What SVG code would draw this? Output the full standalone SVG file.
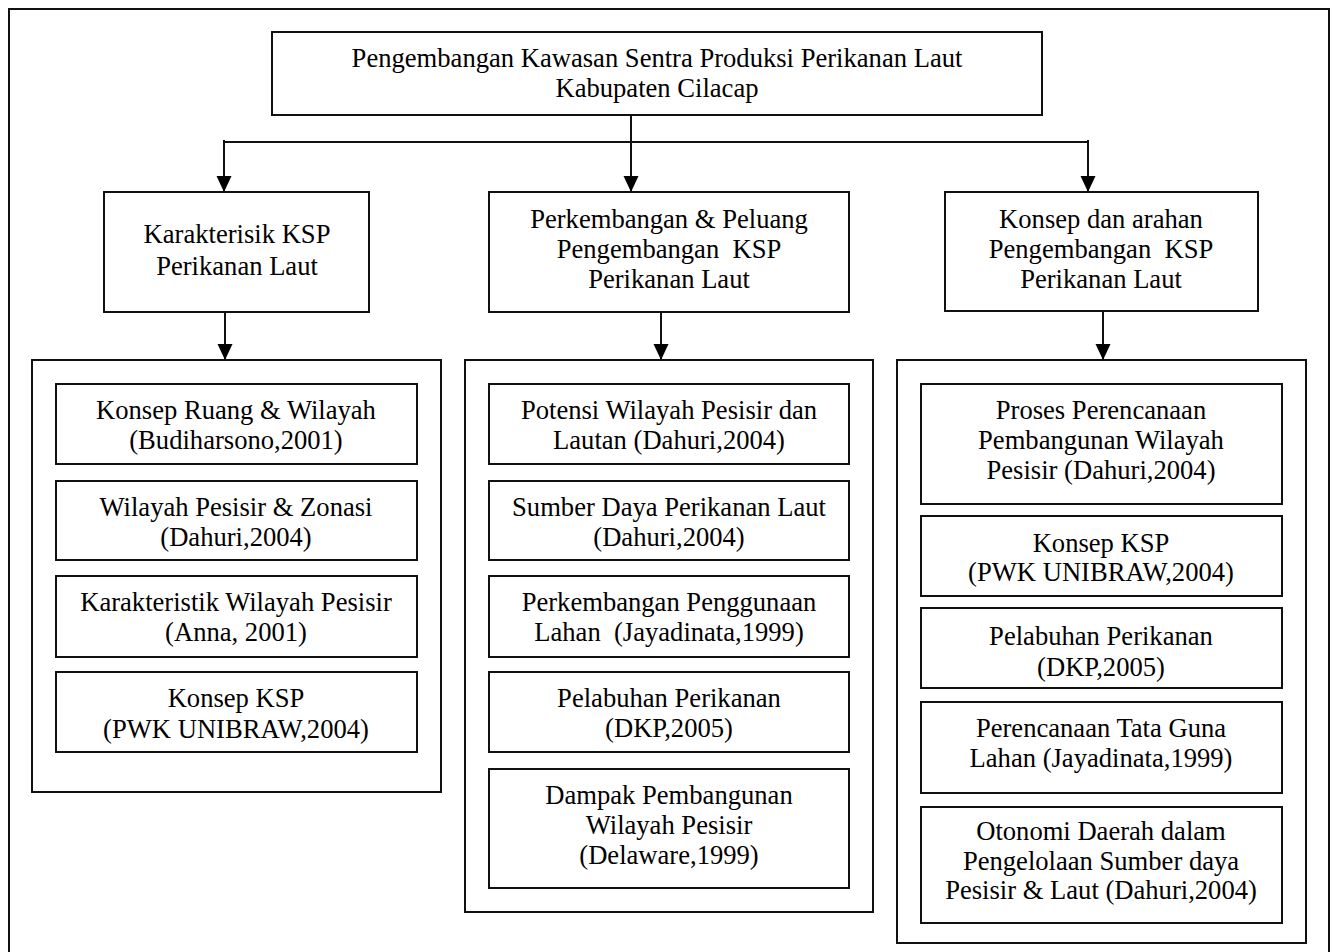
<svg xmlns="http://www.w3.org/2000/svg" width="1334" height="952" viewBox="0 0 1334 952">
  <style>
    .box { fill: #fff; stroke: #111; stroke-width: 2; }
    .frame { fill: none; stroke: #111; stroke-width: 2; }
    .wire { fill: none; stroke: #111; stroke-width: 2; }
    text { font-family: "Liberation Serif", "Times New Roman", serif; font-size: 26.6px; fill: #000; text-anchor: middle; }
  </style>
  <defs>
    <marker id="arrow" markerUnits="userSpaceOnUse" markerWidth="17" markerHeight="16" refX="16" refY="8" orient="auto">
      <path d="M0,0.5 L16,8 L0,15.5 z" fill="#000"/>
    </marker>
  </defs>
  <rect width="1334" height="952" fill="#fff"/>

  <!-- page frame (runs past the bottom edge) -->
  <path class="frame" d="M9,960 V9 H1329 V960"/>

  <!-- connectors -->
  <g id="connectors">
    <path class="wire" d="M631,115 V192" marker-end="url(#arrow)"/>
    <path class="wire" d="M224,142 H1088"/>
    <path class="wire" d="M224,140 V192" marker-end="url(#arrow)"/>
    <path class="wire" d="M1088,140 V192" marker-end="url(#arrow)"/>
    <path class="wire" d="M225,312 V360" marker-end="url(#arrow)"/>
    <path class="wire" d="M661,312 V360" marker-end="url(#arrow)"/>
    <path class="wire" d="M1103,311 V360" marker-end="url(#arrow)"/>
  </g>

  <!-- root -->
  <g id="root">
    <rect class="box" x="272" y="32" width="770" height="83"/>
    <text x="657" y="67">Pengembangan Kawasan Sentra Produksi Perikanan Laut</text>
    <text x="657" y="97">Kabupaten Cilacap</text>
  </g>

  <!-- second level -->
  <g id="karakteristik">
    <rect class="box" x="104" y="192" width="265" height="120"/>
    <text x="237" y="243">Karakterisik KSP</text>
    <text x="237" y="275">Perikanan Laut</text>
  </g>
  <g id="perkembangan">
    <rect class="box" x="489" y="192" width="360" height="120"/>
    <text x="669" y="228">Perkembangan &amp; Peluang</text>
    <text x="669" y="258" xml:space="preserve">Pengembangan  KSP</text>
    <text x="669" y="288">Perikanan Laut</text>
  </g>
  <g id="konsep-arahan">
    <rect class="box" x="945" y="192" width="313" height="119"/>
    <text x="1101" y="228">Konsep dan arahan</text>
    <text x="1101" y="258" xml:space="preserve">Pengembangan  KSP</text>
    <text x="1101" y="288">Perikanan Laut</text>
  </g>

  <!-- left column -->
  <g id="group-left">
    <rect class="box" x="32" y="360" width="409" height="432"/>
    <g id="l1">
      <rect class="box" x="56" y="384" width="361" height="80"/>
      <text x="236" y="419">Konsep Ruang &amp; Wilayah</text>
      <text x="236" y="449">(Budiharsono,2001)</text>
    </g>
    <g id="l2">
      <rect class="box" x="56" y="481" width="361" height="79"/>
      <text x="236" y="516">Wilayah Pesisir &amp; Zonasi</text>
      <text x="236" y="546">(Dahuri,2004)</text>
    </g>
    <g id="l3">
      <rect class="box" x="56" y="576" width="361" height="81"/>
      <text x="236" y="611">Karakteristik Wilayah Pesisir</text>
      <text x="236" y="641">(Anna, 2001)</text>
    </g>
    <g id="l4">
      <rect class="box" x="56" y="672" width="361" height="80"/>
      <text x="236" y="707">Konsep KSP</text>
      <text x="236" y="738">(PWK UNIBRAW,2004)</text>
    </g>
  </g>

  <!-- middle column -->
  <g id="group-middle">
    <rect class="box" x="465" y="360" width="408" height="552"/>
    <g id="m1">
      <rect class="box" x="489" y="384" width="360" height="80"/>
      <text x="669" y="419">Potensi Wilayah Pesisir dan</text>
      <text x="669" y="449">Lautan (Dahuri,2004)</text>
    </g>
    <g id="m2">
      <rect class="box" x="489" y="481" width="360" height="79"/>
      <text x="669" y="516">Sumber Daya Perikanan Laut</text>
      <text x="669" y="546">(Dahuri,2004)</text>
    </g>
    <g id="m3">
      <rect class="box" x="489" y="576" width="360" height="81"/>
      <text x="669" y="611">Perkembangan Penggunaan</text>
      <text x="669" y="641" xml:space="preserve">Lahan  (Jayadinata,1999)</text>
    </g>
    <g id="m4">
      <rect class="box" x="489" y="672" width="360" height="80"/>
      <text x="669" y="707">Pelabuhan Perikanan</text>
      <text x="669" y="737">(DKP,2005)</text>
    </g>
    <g id="m5">
      <rect class="box" x="489" y="769" width="360" height="119"/>
      <text x="669" y="804">Dampak Pembangunan</text>
      <text x="669" y="834">Wilayah Pesisir</text>
      <text x="669" y="864">(Delaware,1999)</text>
    </g>
  </g>

  <!-- right column -->
  <g id="group-right">
    <rect class="box" x="897" y="360" width="409" height="583"/>
    <g id="r1">
      <rect class="box" x="921" y="384" width="361" height="120"/>
      <text x="1101" y="419">Proses Perencanaan</text>
      <text x="1101" y="449">Pembangunan Wilayah</text>
      <text x="1101" y="479">Pesisir (Dahuri,2004)</text>
    </g>
    <g id="r2">
      <rect class="box" x="921" y="516" width="361" height="80"/>
      <text x="1101" y="552">Konsep KSP</text>
      <text x="1101" y="581">(PWK UNIBRAW,2004)</text>
    </g>
    <g id="r3">
      <rect class="box" x="921" y="608" width="361" height="80"/>
      <text x="1101" y="645">Pelabuhan Perikanan</text>
      <text x="1101" y="676">(DKP,2005)</text>
    </g>
    <g id="r4">
      <rect class="box" x="921" y="702" width="361" height="91"/>
      <text x="1101" y="737">Perencanaan Tata Guna</text>
      <text x="1101" y="767">Lahan (Jayadinata,1999)</text>
    </g>
    <g id="r5">
      <rect class="box" x="921" y="807" width="361" height="116"/>
      <text x="1101" y="840">Otonomi Daerah dalam</text>
      <text x="1101" y="870">Pengelolaan Sumber daya</text>
      <text x="1101" y="899">Pesisir &amp; Laut (Dahuri,2004)</text>
    </g>
  </g>
</svg>
